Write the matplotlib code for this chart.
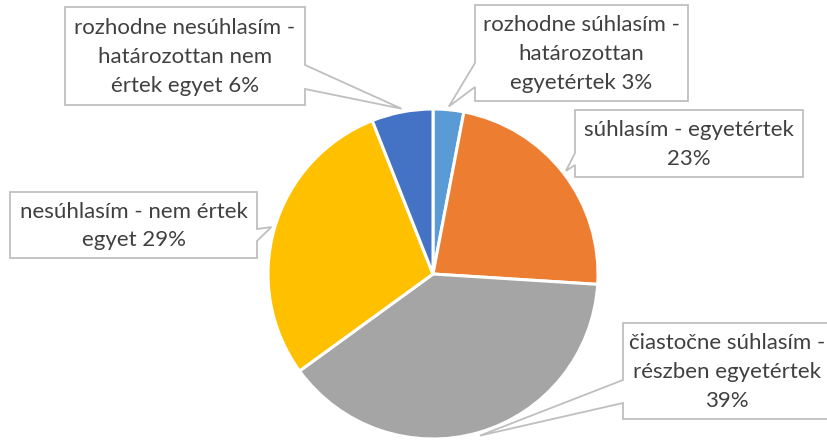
import numpy as np
import matplotlib.pyplot as plt
from matplotlib.patches import Polygon

# data (clockwise from 12 o'clock)
labels = ['rozhodne súhlasím -\nhatározottan\negyetértek 3%',
          'súhlasím - egyetértek\n23%',
          'čiastočne súhlasím -\nrészben egyetértek\n39%',
          'nesúhlasím - nem értek\negyet 29%',
          'rozhodne nesúhlasím -\nhatározottan nem\nértek egyet 6%']
values = [3, 23, 39, 29, 6]
colors = ['#5B9BD5', '#ED7D31', '#A5A5A5', '#FFC000', '#4472C4']

# callout boxes in pixels (x0, y0, x1, y1), side of pointer, pointer base
boxes = [(475, 5, 688, 101, 'left', (63, 87)),
         (575, 110, 803, 177, 'left', (153, 165)),
         (623, 323, 831, 419, 'left', (380, 403)),
         (10, 192, 257, 258, 'right', (229, 241)),
         (65, 7, 305, 105, 'right', (65, 89))]

W, H = 827, 442
cx, cy, r = 433, 274, 165

plt.rcParams['font.family'] = ['Lato', 'DejaVu Sans']

fig = plt.figure(figsize=(W / 100, H / 100), dpi=100)
ax = fig.add_axes([0, 0, 1, 1])

# y axis is flipped below, so counterclock=True looks clockwise
wedges, _ = ax.pie(values, colors=colors, startangle=270, counterclock=True,
                   center=(cx, cy), radius=r,
                   wedgeprops=dict(edgecolor='white', linewidth=2.2))
ax.set_xlim(0, W)
ax.set_ylim(H, 0)
ax.axis('off')

for w, lab, b in zip(wedges, labels, boxes):
    ang = np.deg2rad((w.theta1 + w.theta2) / 2)
    tx = cx + r * 1.02 * np.cos(ang)
    ty = cy + r * 1.02 * np.sin(ang)
    x0, y0, x1, y1, side, (a, bb) = b
    if side == 'left':
        pts = [(x0, y0), (x1, y0), (x1, y1), (x0, y1), (x0, bb), (tx, ty), (x0, a)]
    else:
        pts = [(x0, y0), (x1, y0), (x1, a), (tx, ty), (x1, bb), (x1, y1), (x0, y1)]
    ax.add_patch(Polygon(pts, closed=True, facecolor='white', edgecolor='#BFBFBF',
                         linewidth=1.3, zorder=3, clip_on=False))
    ax.text((x0 + x1) / 2, (y0 + y1) / 2 + 1, lab, ha='center', va='center',
            fontsize=16, color='#404040', linespacing=1.55, zorder=4)

fig.savefig('out.png', dpi=100)
